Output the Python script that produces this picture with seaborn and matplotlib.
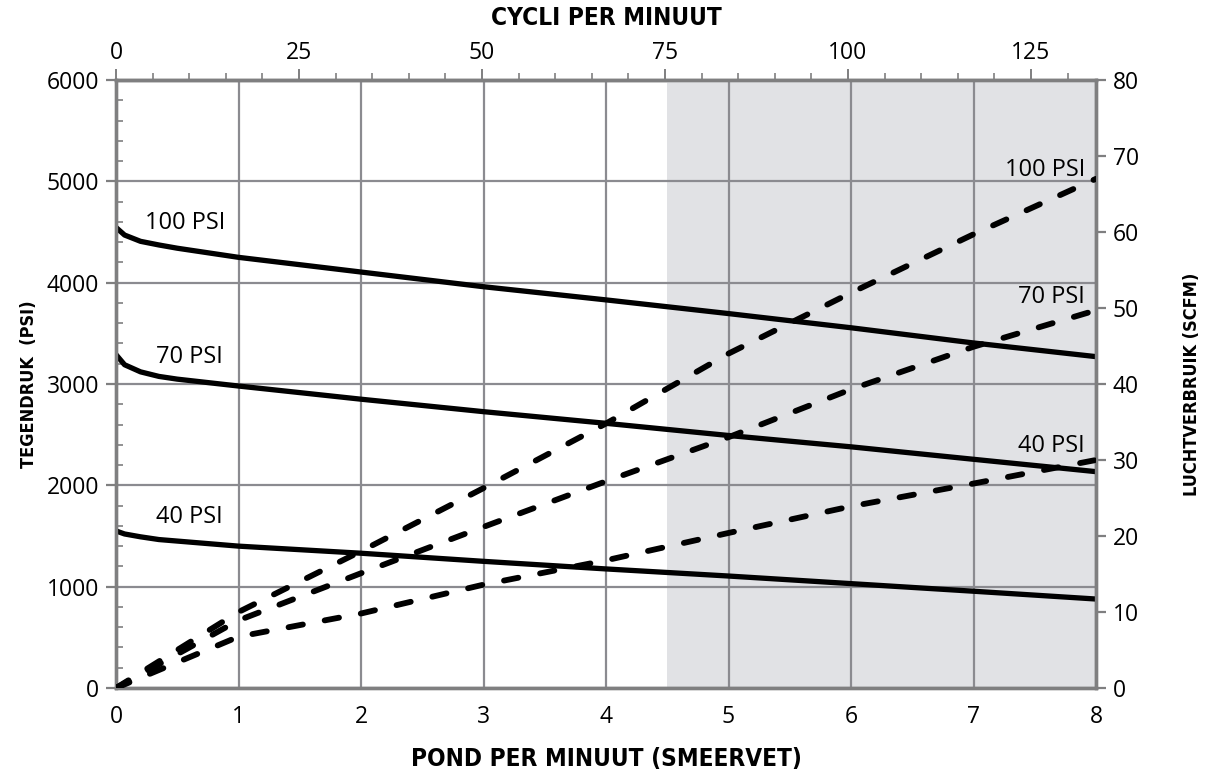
import numpy as np
import pandas as pd
import matplotlib
matplotlib.use("Agg")
import matplotlib.pyplot as plt
from matplotlib.ticker import MultipleLocator, FixedLocator
import seaborn as sns

# Pond per minuut (smeervet) - bottom axis
x_pres = [0, 0.07, 0.2, 0.35, 0.5, 1, 2, 3, 4, 5, 6, 7, 8]
# Tegendruk (PSI) - solid lines, left axis
tegendruk_100 = [4545, 4470, 4408, 4372, 4340, 4250, 4105, 3960, 3830, 3695, 3555, 3405, 3270]
tegendruk_70 = [3290, 3190, 3120, 3075, 3048, 2980, 2850, 2727, 2612, 2492, 2380, 2257, 2135]
tegendruk_40 = [1550, 1520, 1492, 1465, 1450, 1400, 1330, 1250, 1175, 1105, 1030, 955, 878]

# Luchtverbruik (SCFM) - dashed lines, right axis
x_lucht = [0, 1, 2, 3, 4, 5, 6, 7, 8]
lucht_100 = [0, 10, 18, 26.3, 34.8, 44, 52, 59.7, 67]
lucht_70 = [0, 8.9, 15.1, 21.2, 27.2, 33, 39.3, 44.9, 49.7]
lucht_40 = [0, 6.75, 9.8, 13.6, 16.8, 20.4, 23.9, 26.9, 30]

top_ticks = [0, 25, 50, 75, 100, 125]
CYCLI_PER_POND = 25 / 1.4939  # 25 cycles every ~1.49 lb/min on the top scale

GRID = '#8b8b90'
SPINE = '#7f7f80'
SHADE = '#e1e2e5'

sns.set_style("white")
plt.rcParams['font.family'] = ['Open Sans', 'DejaVu Sans']
plt.rcParams['text.color'] = 'black'
plt.rcParams['xtick.labelcolor'] = 'black'
plt.rcParams['ytick.labelcolor'] = 'black'
plt.rcParams['axes.labelcolor'] = 'black'
title_kw = dict(fontweight='bold', family=['DejaVu Sans'], fontstretch='condensed')

fig = plt.figure(figsize=(12.08, 7.76), dpi=100)
ax = fig.add_axes([116 / 1208, 1 - 688 / 776, 980 / 1208, 608 / 776])

# shaded region
ax.axvspan(4.5, 8, color=SHADE, lw=0, zorder=0.1)

for vals in [tegendruk_100, tegendruk_70, tegendruk_40]:
    sns.lineplot(x=x_pres, y=vals, ax=ax, color='black', lw=3.8,
                 solid_capstyle='butt', zorder=3)

ax.set_xlim(0, 8)
ax.set_ylim(0, 6000)
ax.xaxis.set_major_locator(MultipleLocator(1))
ax.xaxis.set_minor_locator(MultipleLocator(0.2))
ax.yaxis.set_major_locator(MultipleLocator(1000))
ax.yaxis.set_minor_locator(MultipleLocator(200))
ax.set_axisbelow(True)
ax.grid(True, which='major', color=GRID, lw=1.6)
ax.tick_params(axis='both', which='major', direction='out', length=7, width=1.6,
               color=SPINE, labelsize=16.5, pad=5)
ax.tick_params(axis='both', which='minor', direction='in', length=5, width=1.2,
               color=SPINE)
ax.tick_params(axis='x', which='both', top=False)
ax.tick_params(axis='y', which='both', right=False)

ax.set_xlabel('POND PER MINUUT (SMEERVET)', fontsize=17.5, labelpad=13, **title_kw)
ax.set_ylabel('TEGENDRUK  (PSI)', fontsize=13, labelpad=6, **title_kw)

# text labels for the pressure curves
ax.text(0.24, 4590, '100 PSI', fontsize=17, va='center', ha='left')
ax.text(0.33, 3270, '70 PSI', fontsize=17, va='center', ha='left')
ax.text(0.33, 1690, '40 PSI', fontsize=17, va='center', ha='left')

# right axis: air consumption
ax2 = ax.twinx()
for vals in [lucht_100, lucht_70, lucht_40]:
    sns.lineplot(x=x_lucht, y=vals, ax=ax2, color='black', lw=4.2,
                 linestyle=(0, (2.5, 3.8)), dash_capstyle='round', zorder=3)
ax2.set_ylim(0, 80)
ax2.yaxis.set_major_locator(MultipleLocator(10))
ax2.tick_params(axis='y', which='major', direction='out', length=7, width=1.6,
                color=SPINE, labelsize=16.5, pad=5)
ax2.set_ylabel('LUCHTVERBRUIK (SCFM)', fontsize=13, labelpad=32, **title_kw)
ax2.text(7.91, 68.2, '100 PSI', fontsize=17, va='center', ha='right')
ax2.text(7.91, 51.4, '70 PSI', fontsize=17, va='center', ha='right')
ax2.text(7.91, 31.8, '40 PSI', fontsize=17, va='center', ha='right')

# top axis: cycles per minute
top = ax.secondary_xaxis('top', functions=(lambda p: p * CYCLI_PER_POND,
                                           lambda c: c / CYCLI_PER_POND))
top.xaxis.set_major_locator(FixedLocator(top_ticks))
top.xaxis.set_minor_locator(FixedLocator(np.arange(5, 135, 5)))
top.tick_params(axis='x', which='major', direction='out', length=8, width=1.4,
                color=SPINE, labelsize=16.5, pad=3)
top.tick_params(axis='x', which='minor', direction='out', length=5, width=1.2,
                color=SPINE)
top.set_xlabel('CYCLI PER MINUUT', fontsize=17.5, labelpad=11, **title_kw)

for a in (ax, ax2):
    for s in a.spines.values():
        s.set_color(SPINE)
        s.set_linewidth(2.4)
top.spines['top'].set_color(SPINE)
top.spines['top'].set_linewidth(2.4)

fig.savefig('out.png', dpi=100)
